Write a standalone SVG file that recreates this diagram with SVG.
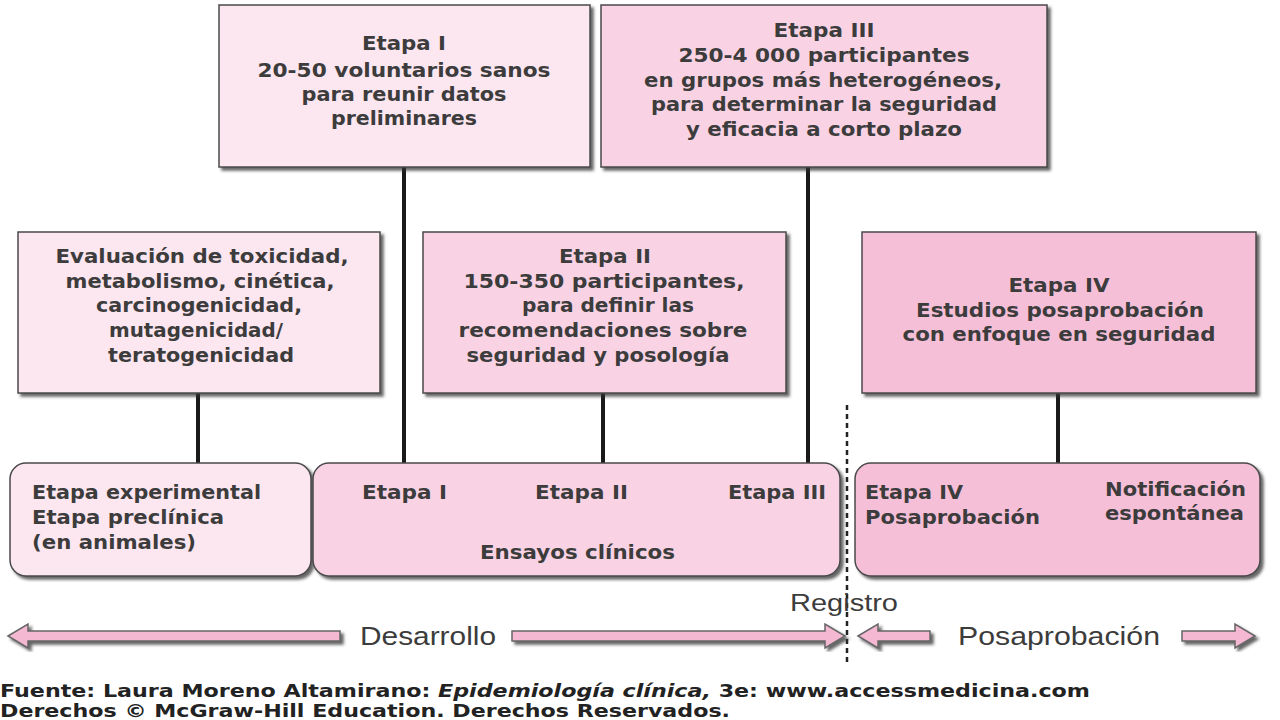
<svg xmlns="http://www.w3.org/2000/svg" width="1280" height="720" viewBox="0 0 1280 720">
<defs>
<filter id="sh" x="-5%" y="-5%" width="115%" height="120%">
<feDropShadow dx="3" dy="3" stdDeviation="1.5" flood-color="#333" flood-opacity="0.75"/>
</filter>
</defs>
<style>
.box{stroke:#4a4a4a;stroke-width:1.5;filter:url(#sh)}
.c1{fill:#fce6f0}
.c2{fill:#f9d3e4}
.c3{fill:#f6bfd8}
.t{font-family:"DejaVu Sans","Liberation Sans",sans-serif;font-size:20px;fill:#3c3c3c;font-weight:bold}
.m{text-anchor:middle}
.ln{stroke:#1a1a1a;stroke-width:4}
.arr{fill:#f5b8d3;stroke:#666;stroke-width:1.5;filter:url(#sh)}
.big{font-family:"Liberation Sans",Arial,sans-serif;font-size:25px;fill:#3c3c3c}
.ft{font-family:"DejaVu Sans",Verdana,sans-serif;font-size:17px;font-weight:bold;fill:#222}
</style>
<rect width="1280" height="720" fill="#fff"/>
<g id="connectors">
<line class="ln" x1="198" y1="393" x2="198" y2="463"/>
<line class="ln" x1="404" y1="167" x2="404" y2="463"/>
<line class="ln" x1="603" y1="393" x2="603" y2="463"/>
<line class="ln" x1="808" y1="167" x2="808" y2="463"/>
<line class="ln" x1="1058" y1="393" x2="1058" y2="463"/>
</g>
<g id="etapa1">
<rect class="box c1" x="219" y="5" width="371" height="162"/>
<text class="t m" x="404" y="50" textLength="84" lengthAdjust="spacingAndGlyphs">Etapa I</text>
<text class="t m" x="404" y="77" textLength="293" lengthAdjust="spacingAndGlyphs">20-50 voluntarios sanos</text>
<text class="t m" x="404" y="101" textLength="205" lengthAdjust="spacingAndGlyphs">para reunir datos</text>
<text class="t m" x="404" y="125" textLength="146" lengthAdjust="spacingAndGlyphs">preliminares</text>
</g>
<g id="etapa3">
<rect class="box c2" x="601" y="5" width="446" height="162"/>
<text class="t m" x="824" y="37" textLength="101" lengthAdjust="spacingAndGlyphs">Etapa III</text>
<text class="t m" x="824" y="62" textLength="291" lengthAdjust="spacingAndGlyphs">250-4 000 participantes</text>
<text class="t m" x="823" y="87" textLength="358" lengthAdjust="spacingAndGlyphs">en grupos más heterogéneos,</text>
<text class="t m" x="824" y="111" textLength="346" lengthAdjust="spacingAndGlyphs">para determinar la seguridad</text>
<text class="t m" x="824" y="136" textLength="276" lengthAdjust="spacingAndGlyphs">y eficacia a corto plazo</text>
</g>
<g id="evaluacion">
<rect class="box c1" x="18" y="232" width="362" height="161"/>
<text class="t m" x="202" y="263" textLength="293" lengthAdjust="spacingAndGlyphs">Evaluación de toxicidad,</text>
<text class="t m" x="200" y="288" textLength="269" lengthAdjust="spacingAndGlyphs">metabolismo, cinética,</text>
<text class="t m" x="199" y="312" textLength="206" lengthAdjust="spacingAndGlyphs">carcinogenicidad,</text>
<text class="t m" x="196" y="337" textLength="174" lengthAdjust="spacingAndGlyphs">mutagenicidad/</text>
<text class="t m" x="201" y="362" textLength="186" lengthAdjust="spacingAndGlyphs">teratogenicidad</text>
</g>
<g id="etapa2">
<rect class="box c2" x="423" y="232" width="363" height="161"/>
<text class="t m" x="605" y="263" textLength="92" lengthAdjust="spacingAndGlyphs">Etapa II</text>
<text class="t m" x="604" y="288" textLength="281" lengthAdjust="spacingAndGlyphs">150-350 participantes,</text>
<text class="t m" x="608" y="312" textLength="172" lengthAdjust="spacingAndGlyphs">para definir las</text>
<text class="t m" x="603" y="337" textLength="289" lengthAdjust="spacingAndGlyphs">recomendaciones sobre</text>
<text class="t m" x="598" y="362" textLength="263" lengthAdjust="spacingAndGlyphs">seguridad y posología</text>
</g>
<g id="etapa4">
<rect class="box c3" x="862" y="232" width="394" height="161"/>
<text class="t m" x="1059" y="292" textLength="101" lengthAdjust="spacingAndGlyphs">Etapa IV</text>
<text class="t m" x="1060" y="317" textLength="288" lengthAdjust="spacingAndGlyphs">Estudios posaprobación</text>
<text class="t m" x="1059" y="341" textLength="313" lengthAdjust="spacingAndGlyphs">con enfoque en seguridad</text>
</g>
<g id="experimental">
<rect class="box c1" x="10" y="463" width="301" height="113" rx="16"/>
<text class="t" x="32" y="499" textLength="229" lengthAdjust="spacingAndGlyphs">Etapa experimental</text>
<text class="t" x="32" y="524" textLength="192" lengthAdjust="spacingAndGlyphs">Etapa preclínica</text>
<text class="t" x="32" y="549" textLength="164" lengthAdjust="spacingAndGlyphs">(en animales)</text>
</g>
<g id="ensayos">
<rect class="box c2" x="313" y="463" width="527" height="113" rx="16"/>
<text class="t" x="362" y="499" textLength="85" lengthAdjust="spacingAndGlyphs">Etapa I</text>
<text class="t" x="535" y="499" textLength="93" lengthAdjust="spacingAndGlyphs">Etapa II</text>
<text class="t" x="728" y="499" textLength="98" lengthAdjust="spacingAndGlyphs">Etapa III</text>
<text class="t" x="480" y="559" textLength="195" lengthAdjust="spacingAndGlyphs">Ensayos clínicos</text>
</g>
<g id="posaprobacion">
<rect class="box c3" x="855" y="463" width="405" height="113" rx="16"/>
<text class="t" x="865" y="499" textLength="98" lengthAdjust="spacingAndGlyphs">Etapa IV</text>
<text class="t" x="865" y="524" textLength="175" lengthAdjust="spacingAndGlyphs">Posaprobación</text>
<text class="t" x="1105" y="496" textLength="141" lengthAdjust="spacingAndGlyphs">Notificación</text>
<text class="t" x="1105" y="520" textLength="139" lengthAdjust="spacingAndGlyphs">espontánea</text>
</g>
<g id="registro">
<line x1="847" y1="405" x2="847" y2="662" stroke="#222" stroke-width="2.5" stroke-dasharray="5,4"/>
<text class="big" x="790" y="611" style="font-size:23px" textLength="108" lengthAdjust="spacingAndGlyphs">Registro</text>
</g>
<g id="arrows">
<path class="arr" d="M8,636 L28,624 L28,631 L340,631 L340,641 L28,641 L28,648 Z"/>
<path class="arr" d="M512,631 L825,631 L825,624 L845,636 L825,648 L825,641 L512,641 Z"/>
<path class="arr" d="M858,636 L878,624 L878,631 L930,631 L930,641 L878,641 L878,648 Z"/>
<path class="arr" d="M1182,631 L1235,631 L1235,624 L1255,636 L1235,648 L1235,641 L1182,641 Z"/>
<text class="big" x="360" y="645" textLength="136" lengthAdjust="spacingAndGlyphs">Desarrollo</text>
<text class="big" x="958" y="645" textLength="202" lengthAdjust="spacingAndGlyphs">Posaprobación</text>
</g>
<g id="footer">
<text class="ft" x="0" y="697" textLength="1090" lengthAdjust="spacingAndGlyphs">Fuente: Laura Moreno Altamirano: <tspan font-style="italic">Epidemiología clínica,</tspan> 3e: www.accessmedicina.com</text>
<text class="ft" x="0" y="717" textLength="730" lengthAdjust="spacingAndGlyphs">Derechos © McGraw-Hill Education. Derechos Reservados.</text>
</g>
</svg>
